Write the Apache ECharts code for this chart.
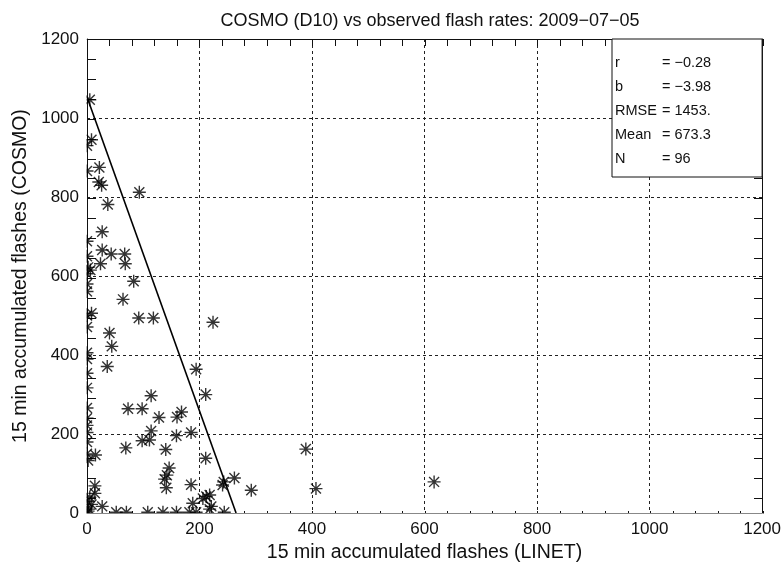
<!DOCTYPE html>
<html>
<head>
<meta charset="utf-8">
<script src="https://cdn.jsdelivr.net/npm/echarts@6/dist/echarts.min.js"></script>
<style>
  html, body { margin: 0; padding: 0; background: #fff; }
  #chart { width: 784px; height: 568px; }
</style>
</head>
<body>
<div id="chart"></div>
<script>
// observed (LINET) vs model (COSMO) 15 min flash counts
var linetFlashes = [
  5, 8, 0, 22, 0, 21, 26, 93, 37, 27, 0, 27, 43, 67, 24, 68, 2, 6, 0, 83,
  0, 64, 8, 92, 118, 224, 0, 40, 44, 0, 36, 194, 0, 0, 114, 211, 0, 73, 98, 128,
  168, 160, 0, 0, 114, 159, 185, 98, 111, 69, 140, 15, 2, 211, 146, 142, 138, 141, 14, 14,
  185, 8, 27, 188, 212, 218, 221, 206, 243, 262, 241, 292, 407, 389, 617, 218, 52, 70, 108, 135,
  159, 182, 194, 244, 0, 3, 0, 5, 0, 0, 0, 0, 0, 0, 2, 0
];
var cosmoFlashes = [
  1046, 945, 930, 875, 866, 838, 830, 812, 781, 712, 688, 666, 656, 656, 631, 631, 622, 615, 606, 587,
  561, 541, 506, 494, 494, 483, 471, 456, 422, 406, 371, 364, 354, 317, 297, 300, 266, 264, 264, 242,
  256, 243, 222, 204, 208, 196, 204, 183, 185, 165, 161, 147, 133, 139, 114, 96, 86, 64, 69, 50,
  72, 22, 17, 25, 42, 46, 17, 37, 79, 89, 71, 58, 62, 162, 79, 10, 2, 2, 2, 2,
  2, 2, 2, 2, 0, 10, 30, 40, 390, 500, 580, 650, 180, 240, 5, 150
];
// fitted line end points
var fitX = [0, 265];
var fitY = [1053, 0];

var statNames = ["r", "b", "RMSE", "Mean", "N"];
var statValues = ["= \u22120.28", "= \u22123.98", "= 1453.", "= 673.3", "= 96"];
var xTicks = [0, 200, 400, 600, 800, 1000, 1200];
var yTicks = [0, 200, 400, 600, 800, 1000, 1200];
var xMinorStep = 40;
var yMinorStep = 50;

var font = "'Liberation Sans', 'DejaVu Sans', sans-serif";
var ink = "#111";

var points = linetFlashes.map(function (x, i) { return [x, cosmoFlashes[i]]; });
var fitLine = fitX.map(function (x, i) { return [x, fitY[i]]; });

var asterisk = "path://M0,-6L0,6M-6,0L6,0M-4.6,-4.6L4.6,4.6M-4.6,4.6L4.6,-4.6";
var gridBox = { left: 87, right: 21, top: 39, bottom: 50 };

// main axes: line, labels, dotted grid
function mainAxis(showLabel, ticks) {
  return {
    type: "value",
    gridIndex: 0,
    min: ticks[0],
    max: ticks[ticks.length - 1],
    interval: 200,
    axisLine: { show: true, onZero: false, lineStyle: { color: ink, width: 1 } },
    axisTick: { show: false },
    axisLabel: {
      show: showLabel, color: ink, fontFamily: font, fontSize: 17, margin: 8,
      formatter: function (v) { return String(v); }
    },
    splitLine: { show: false }
  };
}

// tick-only axes on a second grid, for the small inner ticks
function tickAxis(ticks, step, len, pos) {
  return {
    type: "value",
    gridIndex: 1,
    position: pos,
    min: ticks[0],
    max: ticks[ticks.length - 1],
    interval: step,
    axisLine: { show: false, onZero: false },
    axisTick: { show: true, inside: true, length: len, lineStyle: { color: ink, width: 1 } },
    axisLabel: { show: false },
    splitLine: { show: false }
  };
}

var nameStyle = { color: ink, fontFamily: font, fontSize: 19.5 };
var gridLine = { show: true, lineStyle: { color: "#222", type: [3, 3], width: 1 } };

var xBottom = mainAxis(true, xTicks);
xBottom.position = "bottom";
xBottom.name = "15 min accumulated flashes (LINET)";
xBottom.nameLocation = "middle";
xBottom.nameGap = 27;
xBottom.nameTextStyle = nameStyle;
xBottom.splitLine = gridLine;

var xTop = mainAxis(false, xTicks);
xTop.position = "top";

var yLeft = mainAxis(true, yTicks);
yLeft.position = "left";
yLeft.name = "15 min accumulated flashes (COSMO)";
yLeft.nameLocation = "middle";
yLeft.nameGap = 54;
yLeft.nameTextStyle = nameStyle;
yLeft.splitLine = gridLine;

var yRight = mainAxis(false, yTicks);
yRight.position = "right";

var chart = echarts.init(document.getElementById("chart"), null, { renderer: "canvas" });

var option = {
  backgroundColor: "#fff",
  animation: false,
  title: {
    text: "COSMO (D10) vs observed flash rates: 2009\u221207\u221205",
    left: 425,
    textAlign: "center",
    top: 7,
    textStyle: { color: ink, fontFamily: font, fontSize: 18, fontWeight: "normal" }
  },
  grid: [gridBox, gridBox],
  xAxis: [xBottom, xTop,
    tickAxis(xTicks, xMinorStep, 7, "bottom"), tickAxis(xTicks, xMinorStep, 7, "top")],
  yAxis: [yLeft, yRight,
    tickAxis(yTicks, yMinorStep, 9, "left"), tickAxis(yTicks, yMinorStep, 9, "right")],
  series: [
    {
      type: "scatter",
      xAxisIndex: 0,
      yAxisIndex: 0,
      data: points,
      symbol: asterisk,
      symbolSize: 13,
      clip: false,
      itemStyle: { color: "rgba(0,0,0,0)", borderColor: "#000", borderWidth: 1.4 },
      z: 3
    },
    {
      type: "line",
      xAxisIndex: 0,
      yAxisIndex: 0,
      data: fitLine,
      symbol: "none",
      lineStyle: { color: "#000", width: 1.6 },
      z: 4
    }
  ]
};
chart.setOption(option);

// white masks so marks on the axes show only their inside half, and the stats box
var p0 = chart.convertToPixel({ xAxisIndex: 0, yAxisIndex: 0 }, [0, 0]);
var p1 = chart.convertToPixel({ xAxisIndex: 0, yAxisIndex: 0 }, [1200, 1200]);
var boxLeft = 612;
var boxTop = p1[1];
var boxRight = p1[0];
var boxBottom = 177;

var statText = [];
statNames.forEach(function (s, i) {
  var y = boxTop + 16 + i * 24;
  statText.push({ type: "text", z: 51, left: boxLeft + 3, top: y,
    style: { text: s, fill: ink, font: "14.5px " + font } });
  statText.push({ type: "text", z: 51, left: boxLeft + 50, top: y,
    style: { text: statValues[i], fill: ink, font: "14.5px " + font } });
});

chart.setOption({
  graphic: [
    {
      type: "rect", z: 50,
      shape: { x: p0[0] - 8, y: p1[1] - 10, width: 7.5, height: p0[1] - p1[1] + 20 },
      style: { fill: "#fff" }
    },
    {
      type: "rect", z: 50,
      shape: { x: p0[0] - 8, y: p0[1] + 0.5, width: p1[0] - p0[0] + 16, height: 7.5 },
      style: { fill: "#fff" }
    },
    {
      type: "rect", z: 50,
      shape: { x: boxLeft, y: boxTop, width: boxRight - boxLeft, height: boxBottom - boxTop },
      style: { fill: "#fff", stroke: ink, lineWidth: 1 }
    }
  ].concat(statText)
});
</script>
</body>
</html>
